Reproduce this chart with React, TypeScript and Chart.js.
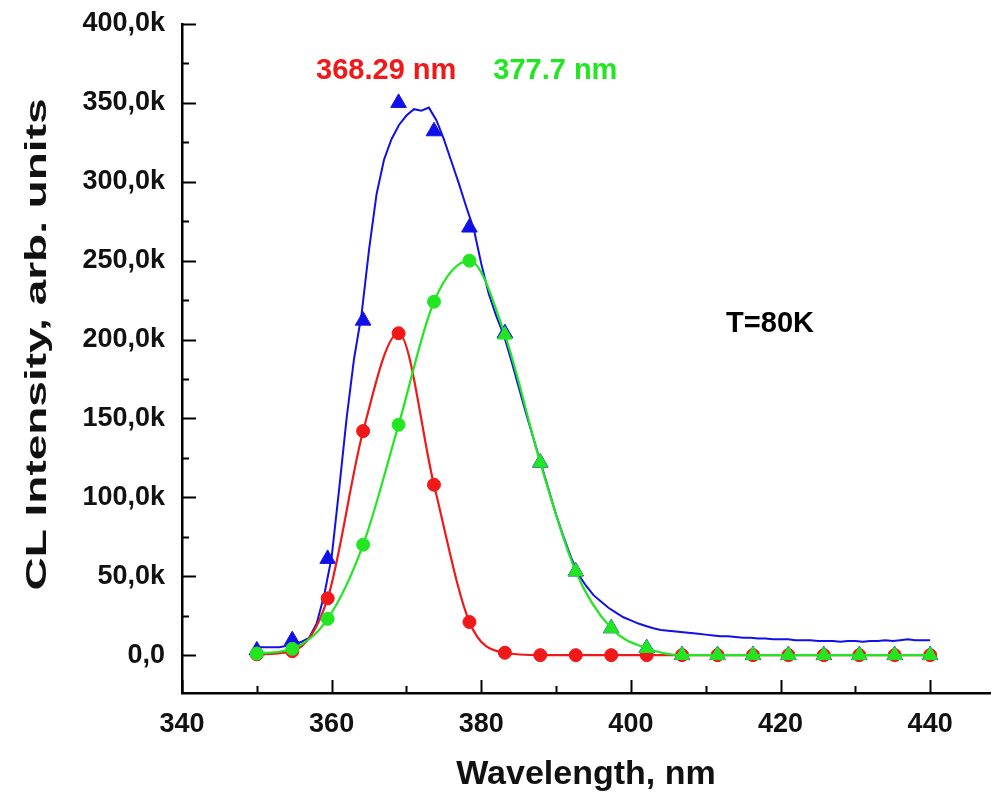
import React, { useEffect, useRef } from 'react';
import { Chart, registerables } from 'chart.js';

Chart.register(...registerables);

// ---------- data ----------
const rawWavelength = [
  350, 351, 352, 353, 354, 355, 356, 357, 358, 359,
  360, 361, 362, 363, 364, 365, 366, 367, 368, 369,
  370, 371, 372, 373, 374, 375, 376, 377, 378, 379,
  380, 381, 382, 383, 384, 385, 386, 387, 388, 389,
  390, 391, 392, 393, 394, 395, 396, 397, 398, 399,
  400, 401, 402, 403, 404, 405, 406, 407, 408, 409,
  410, 411, 412, 413, 414, 415, 416, 417, 418, 419,
  420, 421, 422, 423, 424, 425, 426, 427, 428, 429,
  430, 431, 432, 433, 434, 435, 436, 437, 438, 439, 440,
];
const rawIntensity = [
  5000, 5000, 5000, 5000, 6000, 7000, 8500, 11000, 20000, 38000,
  62000, 105000, 150000, 188000, 216000, 257000, 292000, 314000, 327000, 336000,
  342000, 346000, 345000, 347000, 339000, 327000, 313000, 299000, 284000, 270000,
  248000, 229000, 215000, 203000, 187000, 170000, 153000, 137000, 121000, 105000,
  89000, 75000, 62000, 51000, 44000, 38000, 34000, 30000, 27000, 24000,
  22000, 20000, 18500, 17000, 16000, 15500, 15000, 14500, 14000, 13500,
  13000, 12500, 12000, 12000, 11500, 11000, 11000, 10500, 10500, 10000,
  10000, 10000, 9500, 9500, 9500, 9000, 9000, 9000, 8500, 9000,
  9000, 8500, 9000, 9000, 9500, 9000, 9500, 10000, 9500, 9500, 9500,
];

const fitWavelength = [
  350.0, 354.74, 359.47, 364.21, 368.95, 373.68, 378.42, 383.16, 387.89, 392.63,
  397.37, 402.11, 406.84, 411.58, 416.32, 421.05, 425.79, 430.53, 435.26, 440.0,
];
const peak1Intensity = [
  500, 2500, 36000, 142000, 204000, 108000, 21000, 1500, 0, 0,
  0, 0, 0, 0, 0, 0, 0, 0, 0, 0,
];
const peak2Intensity = [
  1000, 4000, 23000, 70000, 146000, 224000, 250000, 203000, 122000, 53000,
  17000, 4400, 0, 0, 0, 0, 0, 0, 0, 0,
];
const sumIntensity = [
  3000, 9500, 61000, 212000, 350000, 332000, 271000, 204000, 122000, 53000,
  17000, 4400, 0, 0, 0, 0, 0, 0, 0, 0,
];
const peak2Styles = [
  'circle', 'circle', 'circle', 'circle', 'circle', 'circle', 'circle',
  'triangle', 'triangle', 'triangle', 'triangle', 'triangle', 'triangle',
  'triangle', 'triangle', 'triangle', 'triangle', 'triangle', 'triangle', 'triangle',
];

const xLabelTicks = [340, 360, 380, 400, 420, 440];
const xAllTicks = [340, 350, 360, 370, 380, 390, 400, 410, 420, 430, 440];
const yLabelTicks = [0, 50000, 100000, 150000, 200000, 250000, 300000, 350000, 400000];
const yAllTicks = [
  0, 25000, 50000, 75000, 100000, 125000, 150000, 175000, 200000,
  225000, 250000, 275000, 300000, 325000, 350000, 375000, 400000,
];

const peak1Label = '368.29 nm';
const peak2Label = '377.7 nm';
const tempLabel = 'T=80K';
const xTitle = 'Wavelength, nm';
const yTitle = 'CL Intensity, arb. units';

// ---------- styles ----------
const FONT = "'Liberation Sans', Arial, Helvetica, sans-serif";
const BLUE = '#1010e8';
const RED = '#f01818';
const GREEN = '#22e622';

const toPoints = (xs: number[], ys: number[]) => xs.map((x, i) => ({ x, y: ys[i] }));

const axisTicksPlugin = {
  id: 'axisTicks',
  afterDraw(chart: any) {
    const { ctx, chartArea, scales } = chart;
    const xs = scales.x;
    const ys = scales.y;
    ctx.save();
    ctx.strokeStyle = '#000';
    ctx.lineWidth = 2;
    yAllTicks.forEach((v) => {
      const y = Math.round(ys.getPixelForValue(v)) + 0.5;
      const len = v % 50000 === 0 ? 14 : 7;
      ctx.beginPath();
      ctx.moveTo(chartArea.left, y);
      ctx.lineTo(chartArea.left + len, y);
      ctx.stroke();
    });
    xAllTicks.forEach((v) => {
      const x = Math.round(xs.getPixelForValue(v)) + 0.5;
      const len = v % 20 === 0 ? 13 : 7;
      ctx.beginPath();
      ctx.moveTo(x, chartArea.bottom);
      ctx.lineTo(x, chartArea.bottom - len);
      ctx.stroke();
    });
    // y axis title (tall, stretched lettering as in the source figure)
    ctx.font = `bold 30px ${FONT}`;
    ctx.fillStyle = '#111';
    ctx.textAlign = 'center';
    ctx.textBaseline = 'middle';
    const w = ctx.measureText(yTitle).width;
    const sx = 492 / w;
    const cy = (ys.getPixelForValue(400000) + chartArea.bottom) / 2 - 14;
    ctx.translate(38, cy);
    ctx.rotate(-Math.PI / 2);
    ctx.scale(sx, 1);
    ctx.fillText(yTitle, 0, 0);
    ctx.restore();
  },
};

const annotationPlugin = {
  id: 'annotations',
  afterDatasetsDraw(chart: any) {
    const { ctx, scales } = chart;
    const xs = scales.x;
    const ys = scales.y;
    ctx.save();
    ctx.textAlign = 'center';
    ctx.textBaseline = 'middle';
    ctx.font = `bold 29px ${FONT}`;
    ctx.fillStyle = RED;
    ctx.fillText(peak1Label, xs.getPixelForValue(367.3), ys.getPixelForValue(370000));
    ctx.fillStyle = GREEN;
    ctx.fillText(peak2Label, xs.getPixelForValue(389.9), ys.getPixelForValue(370000));
    ctx.fillStyle = '#000';
    ctx.fillText(tempLabel, xs.getPixelForValue(418.6), ys.getPixelForValue(210000));
    ctx.restore();
  },
};

export default function App() {
  const canvasRef = useRef<HTMLCanvasElement | null>(null);

  useEffect(() => {
    if (!canvasRef.current) return;
    const chart = new Chart(canvasRef.current, {
      type: 'line',
      data: {
        datasets: [
          {
            label: 'Peak 2',
            data: toPoints(fitWavelength, peak2Intensity),
            borderColor: GREEN,
            backgroundColor: GREEN,
            borderWidth: 2.2,
            pointStyle: peak2Styles as any,
            pointRadius: peak2Styles.map((s) => (s === 'circle' ? 6.5 : 8.5)),
            pointBorderWidth: 1,
            cubicInterpolationMode: 'monotone',
          },
          {
            label: 'Peak 1',
            data: toPoints(fitWavelength, peak1Intensity),
            borderColor: RED,
            backgroundColor: RED,
            borderWidth: 2.2,
            pointStyle: 'circle',
            pointRadius: 6.5,
            pointBorderWidth: 1,
            cubicInterpolationMode: 'monotone',
          },
          {
            label: 'Sum',
            data: toPoints(fitWavelength, sumIntensity),
            showLine: false,
            borderColor: BLUE,
            backgroundColor: BLUE,
            pointStyle: 'triangle',
            pointRadius: 9,
            pointBorderWidth: 1,
          },
          {
            label: 'Measured',
            data: toPoints(rawWavelength, rawIntensity),
            borderColor: BLUE,
            backgroundColor: BLUE,
            borderWidth: 2,
            pointRadius: 0,
            tension: 0,
          },
        ],
      },
      options: {
        animation: false,
        responsive: false,
        events: [],
        layout: { padding: { top: 24, right: 0, left: 0, bottom: 0 } },
        plugins: {
          legend: { display: false },
          tooltip: { enabled: false },
        },
        scales: {
          x: {
            type: 'linear',
            min: 340,
            max: 448,
            grid: { display: false, drawTicks: true, tickLength: 15 },
            border: { display: true, color: '#000', width: 2.5 },
            afterBuildTicks: (s: any) => {
              s.ticks = xLabelTicks.map((v) => ({ value: v }));
            },
            afterFit: (s: any) => {
              s.height = 106;
            },
            ticks: {
              autoSkip: false,
              maxRotation: 0,
              padding: 0,
              color: '#111',
              font: { family: FONT, size: 27, weight: 'bold' },
              callback: (v: any) => String(v),
            },
            title: {
              display: true,
              text: xTitle,
              color: '#111',
              font: { family: FONT, size: 34, weight: 'bold', lineHeight: 1 },
              padding: { top: 0, bottom: 7 },
            },
          },
          y: {
            type: 'linear',
            min: -24000,
            max: 400000,
            grid: { display: false, drawTicks: true, tickLength: 17 },
            border: { display: true, color: '#000', width: 2.5 },
            afterBuildTicks: (s: any) => {
              s.ticks = yLabelTicks.map((v) => ({ value: v }));
            },
            afterFit: (s: any) => {
              s.width = 182;
            },
            ticks: {
              autoSkip: false,
              padding: 0,
              color: '#111',
              font: { family: FONT, size: 27, weight: 'bold' },
              callback: (v: any) =>
                v === 0 ? '0,0' : (Number(v) / 1000).toFixed(1).replace('.', ',') + 'k',
            },
            title: { display: false },
          },
        },
      },
      plugins: [axisTicksPlugin, annotationPlugin],
    });
    return () => chart.destroy();
  }, []);

  return (
    <div style={{ position: 'absolute', left: 0, top: 0, width: 1000, height: 799, background: '#fff' }}>
      <canvas ref={canvasRef} width={1000} height={799} style={{ display: 'block' }} />
    </div>
  );
}
